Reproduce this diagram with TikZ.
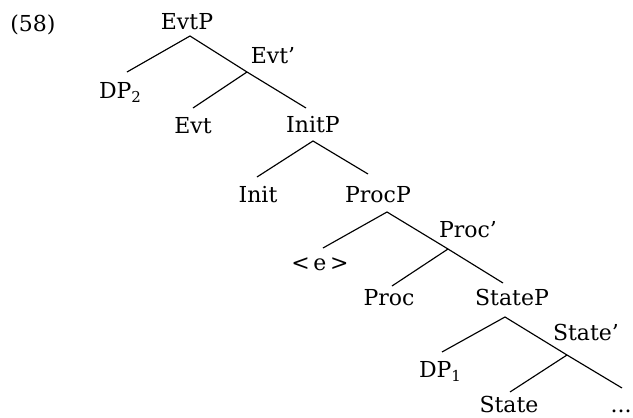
\documentclass[tikz,border=0pt]{standalone}
\usepackage{fontspec}
\setmainfont{DejaVu Serif}
\newcommand\lsub[1]{\raisebox{-4pt}{\fontsize{15}{15}\selectfont #1}}
\begin{document}
\begin{tikzpicture}[x=1pt,y=-1pt,
  lbl/.style={anchor=base,inner sep=0pt,font=\fontsize{22}{24}\selectfont},
  br/.style={line width=1.15pt}]
\useasboundingbox (0,0) rectangle (633,418);
% labels
\node[lbl] (ex) at (33,31) {(58)};
\node[lbl] (EvtP) at (187,29) {EvtP};
\node[lbl] (Evtb) at (273,63) {Evt’};
\node[lbl] (DPb) at (120,98) {DP\lsub{2}};
\node[lbl] (Evt) at (193,133) {Evt};
\node[lbl] (InitP) at (313,132) {InitP};
\node[lbl] (Init) at (258,202) {Init};
\node[lbl] (ProcP) at (378,202) {ProcP};
\node[lbl] (Procb) at (468,237) {Proc’};
\node[lbl] (e) at (320,270) {<\,e\,>};
\node[lbl] (Proc) at (389,305) {Proc};
\node[lbl] (StateP) at (512,305) {StateP};
\node[lbl] (Stateb) at (586,340) {State’};
\node[lbl] (DPa) at (440,377) {DP\lsub{1}};
\node[lbl] (State) at (509,412) {State};
\node[lbl] (dots) at (621,412) {...};
% branch points
\coordinate (aEvtP) at (190,36);
\coordinate (tDPb) at (127,72);
\coordinate (jEvtb) at (247,72);
\coordinate (tEvt) at (193,108);
\coordinate (tInitP) at (306,108);
\coordinate (aInitP) at (313,141);
\coordinate (tInit) at (257,177);
\coordinate (tProcP) at (368,174);
\coordinate (aProcP) at (387,212);
\coordinate (te) at (323,248);
\coordinate (jProcb) at (448,249);
\coordinate (tProc) at (392,286);
\coordinate (tStateP) at (503,283);
\coordinate (aStateP) at (505,317);
\coordinate (tDPa) at (442,352);
\coordinate (jStateb) at (567,355);
\coordinate (tState) at (510,392);
\coordinate (tdots) at (622,388);
% branches
\draw[br] (tDPb) -- (aEvtP) -- (jEvtb) -- (tInitP);
\draw[br] (jEvtb) -- (tEvt);
\draw[br] (tInit) -- (aInitP) -- (tProcP);
\draw[br] (te) -- (aProcP) -- (jProcb) -- (tStateP);
\draw[br] (jProcb) -- (tProc);
\draw[br] (tDPa) -- (aStateP) -- (jStateb) -- (tdots);
\draw[br] (jStateb) -- (tState);
\end{tikzpicture}
\end{document}
